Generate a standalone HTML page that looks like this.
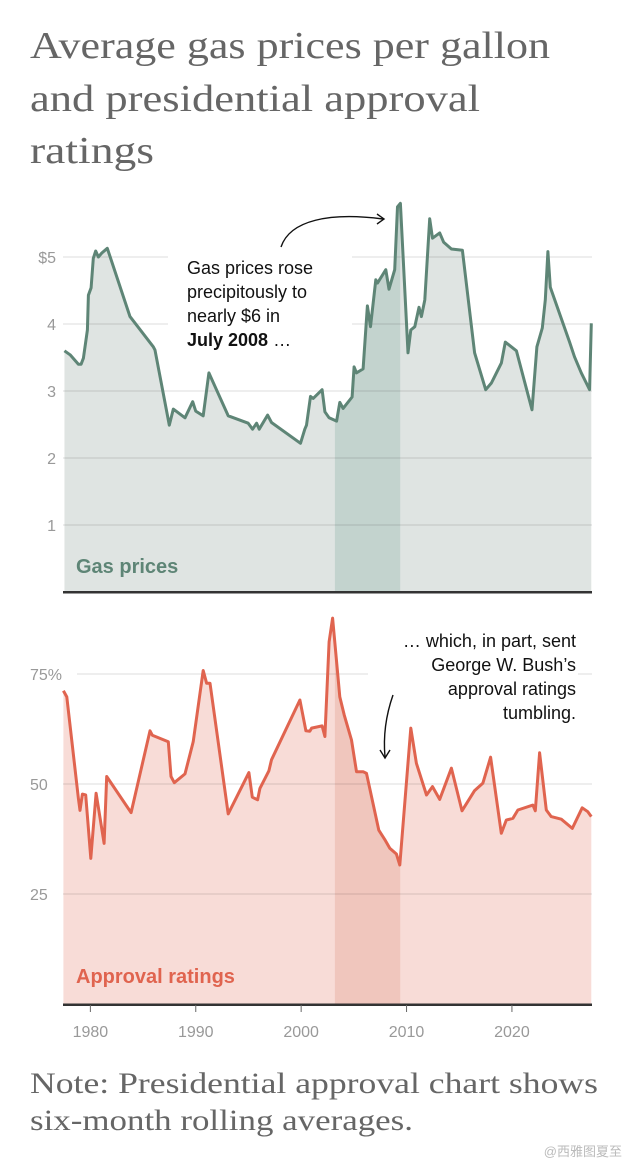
<!DOCTYPE html>
<html><head><meta charset="utf-8"><style>
body{margin:0;background:#fff;width:630px;height:1165px;overflow:hidden;font-family:"Liberation Sans",sans-serif}
svg{position:absolute;left:0;top:0}
</style></head><body>
<svg width="630" height="1165">
  <g font-family="Liberation Serif, serif" font-size="38" fill="#666">
    <text x="30" y="58" textLength="520" lengthAdjust="spacingAndGlyphs">Average gas prices per gallon</text>
    <text x="30" y="111" textLength="450" lengthAdjust="spacingAndGlyphs">and presidential approval</text>
    <text x="30" y="163" textLength="124" lengthAdjust="spacingAndGlyphs">ratings</text>
  </g>
  <g font-family="Liberation Serif, serif" font-size="30" fill="#666">
    <text x="30" y="1093" textLength="568" lengthAdjust="spacingAndGlyphs">Note: Presidential approval chart shows</text>
    <text x="30" y="1130" textLength="383" lengthAdjust="spacingAndGlyphs">six-month rolling averages.</text>
  </g>
</svg>
<svg id="c" width="630" height="1165"></svg>
<script>
const gasYears=[1977.54,1978.08,1978.86,1979.12,1979.34,1979.72,1979.81,1980.07,1980.28,1980.51,1980.76,1981.08,1981.61,1983.76,1985.97,1986.13,1987.49,1987.87,1988.98,1989.71,1989.99,1990.71,1991.25,1993.08,1994.98,1995.39,1995.77,1996.02,1996.82,1997.19,1999.94,2000.35,2000.51,2000.89,2001.14,2001.99,2002.25,2002.65,2003.36,2003.67,2003.98,2004.83,2005.02,2005.25,2005.88,2006.29,2006.58,2007.08,2007.24,2008.03,2008.34,2008.88,2009.14,2009.42,2010.14,2010.40,2010.78,2011.18,2011.41,2011.73,2012.20,2012.46,2013.15,2013.53,2014.26,2015.30,2016.46,2017.51,2018.05,2019.00,2019.37,2020.42,2021.90,2022.37,2022.88,2023.17,2023.41,2023.64,2025.47,2025.94,2026.58,2027.37,2027.53];
const gasPrices=[3.60,3.54,3.40,3.40,3.49,3.91,4.43,4.54,4.98,5.09,5.00,5.06,5.13,4.11,3.66,3.61,2.49,2.73,2.60,2.84,2.70,2.63,3.27,2.63,2.52,2.43,2.52,2.43,2.64,2.53,2.22,2.43,2.49,2.92,2.89,3.02,2.69,2.60,2.55,2.83,2.74,2.91,3.36,3.27,3.33,4.27,3.96,4.66,4.61,4.81,4.52,4.81,5.75,5.80,3.57,3.91,3.96,4.25,4.11,4.36,5.57,5.28,5.36,5.22,5.12,5.10,3.57,3.02,3.12,3.42,3.73,3.60,2.72,3.66,3.94,4.36,5.08,4.55,3.73,3.51,3.27,3.02,4.01];
const apprYears=[1977.44,1977.76,1978.86,1979.02,1979.24,1979.56,1980.04,1980.54,1981.30,1981.55,1983.86,1985.66,1985.88,1987.39,1987.65,1987.96,1988.98,1989.76,1990.71,1991.03,1991.35,1993.08,1995.04,1995.36,1995.87,1996.09,1996.94,1997.19,1999.88,2000.45,2000.82,2000.99,2001.99,2002.25,2002.65,2002.98,2003.67,2004.08,2004.78,2005.25,2005.88,2006.20,2007.37,2007.93,2008.41,2009.04,2009.36,2010.40,2010.94,2011.89,2012.46,2013.15,2014.26,2015.26,2016.46,2017.25,2017.98,2018.99,2019.47,2020.09,2020.57,2021.99,2022.22,2022.63,2023.26,2023.73,2024.68,2025.73,2026.67,2027.20,2027.53];
const apprValues=[71.2,69.8,46.7,44.0,47.7,47.5,33.1,47.9,36.5,51.7,43.5,62.1,61.1,59.6,51.7,50.3,52.3,59.6,75.8,72.9,72.9,43.2,52.6,47.0,46.4,49.0,53.0,55.5,69.1,62.1,62.0,62.7,63.2,60.8,82.3,87.7,69.8,65.7,60.0,52.8,52.8,52.4,39.5,37.4,35.4,34.1,31.6,62.7,54.7,47.5,49.4,46.5,53.6,43.9,48.5,50.2,56.1,38.8,41.8,42.2,44.1,45.2,43.9,57.1,44.1,42.6,42.0,39.9,44.6,43.7,42.6];
const gasTicks=[1,2,3,4,5];
const gasTickLabels=["1","2","3","4","$5"];
const apprTicks=[25,50,75];
const apprTickLabels=["25","50","75%"];
const xTicks=[1980,1990,2000,2010,2020];
const band=[2003.2,2009.4];

const NS="http://www.w3.org/2000/svg";
const svg=document.getElementById('c');
function mk(t,a,p){const e=document.createElementNS(NS,t);for(const k in a)e.setAttribute(k,a[k]);(p||svg).appendChild(e);return e;}
const X0=63.5,X1=591.5,D0=1977.45,D1=2027.55;
const x=v=>X0+(v-D0)/(D1-D0)*(X1-X0);
const yG=v=>592-v*67;
const yA=v=>1004-v*4.4;

function panel(years,vals,y,bottom,fill,bandFill,id){
  let d='M'+x(years[0])+','+y(vals[0]);
  for(let i=1;i<years.length;i++)d+='L'+x(years[i]).toFixed(1)+','+y(vals[i]).toFixed(1);
  const area=d+'L'+x(years[years.length-1])+','+bottom+'L'+x(years[0])+','+bottom+'Z';
  const cp=mk('clipPath',{id:id});mk('path',{d:area},cp);
  const a=mk('path',{d:area,fill:fill});
  
  
  const b=mk('rect',{x:x(band[0]),y:bottom-420,width:x(band[1])-x(band[0]),height:420,fill:bandFill,'clip-path':'url(#'+id+')'});
  
  
  return d;
}
const gd=panel(gasYears,gasPrices,yG,592,'#dfe4e2','#c3d3ce','gas-clip');
gasTicks.forEach((t,i)=>{
  const g=mk('line',{x1:63,x2:592,y1:yG(t),y2:yG(t),stroke:'rgba(0,0,0,0.09)','stroke-width':1.5});
  
  
  const l=mk('text',{x:56,y:yG(t)+6,'text-anchor':'end','font-size':16,fill:'#999'});l.textContent=gasTickLabels[i];
  
  
});
const gl=mk('path',{d:gd,fill:'none',stroke:'#5e8576','stroke-width':3,'stroke-linejoin':'round'});


mk('rect',{x:63,y:591,width:529,height:2.5,fill:'#333'});
const ad=panel(apprYears,apprValues,yA,1004,'#f8dcd7','#f0c6bd','appr-clip');
apprTicks.forEach((t,i)=>{
  const g=mk('line',{x1:i==2?77:63,x2:592,y1:yA(t),y2:yA(t),stroke:'rgba(0,0,0,0.09)','stroke-width':1.5});
  
  
  const l=mk('text',{x:30,y:yA(t)+6,'font-size':16,fill:'#999'});l.textContent=apprTickLabels[i];
  
  
});
const al=mk('path',{d:ad,fill:'none',stroke:'#e0644f','stroke-width':3,'stroke-linejoin':'round'});


mk('rect',{x:63,y:1003.5,width:529,height:2.5,fill:'#333'});
xTicks.forEach(t=>{
  mk('line',{x1:x(t),x2:x(t),y1:1005,y2:1012,stroke:'#666','stroke-width':1});
  const l=mk('text',{x:x(t),y:1037,'text-anchor':'middle','font-size':16,fill:'#999'});l.textContent=t;
  
  
});
</script>
<svg width="630" height="1165" style="pointer-events:none">
  <rect x="168" y="248" width="184" height="110" fill="#fff"/>
  <g font-size="18" fill="#111">
    <text x="187" y="274">Gas prices rose</text>
    <text x="187" y="298">precipitously to</text>
    <text x="187" y="322">nearly $6 in</text>
    <text x="187" y="346"><tspan font-weight="bold">July 2008</tspan> …</text>
  </g>
  <path d="M281,247 C290,220 330,212 383,219" fill="none" stroke="#111" stroke-width="1.4"/>
  <path d="M377,214 L384,219 L377,224" fill="none" stroke="#111" stroke-width="1.4"/>
  <rect x="368" y="628" width="210" height="96" fill="#fff"/>
  <g font-size="18" fill="#111" text-anchor="end">
    <text x="576" y="647">… which, in part, sent</text>
    <text x="576" y="671">George W. Bush’s</text>
    <text x="576" y="695">approval ratings</text>
    <text x="576" y="719">tumbling.</text>
  </g>
  <path d="M393,695 C386,715 383,735 385,757" fill="none" stroke="#111" stroke-width="1.4"/>
  <path d="M380,750 L385,758 L390,750" fill="none" stroke="#111" stroke-width="1.4"/>
  <text x="76" y="573" font-size="20" font-weight="bold" fill="#5e8576">Gas prices</text>
  <text x="76" y="983" font-size="20" font-weight="bold" fill="#e0644f">Approval ratings</text>
  <text x="622" y="1156" font-size="13" fill="#bbb" text-anchor="end" font-family="Liberation Sans, Noto Sans CJK SC, sans-serif">@西雅图夏至</text>
</svg>
</body></html>
